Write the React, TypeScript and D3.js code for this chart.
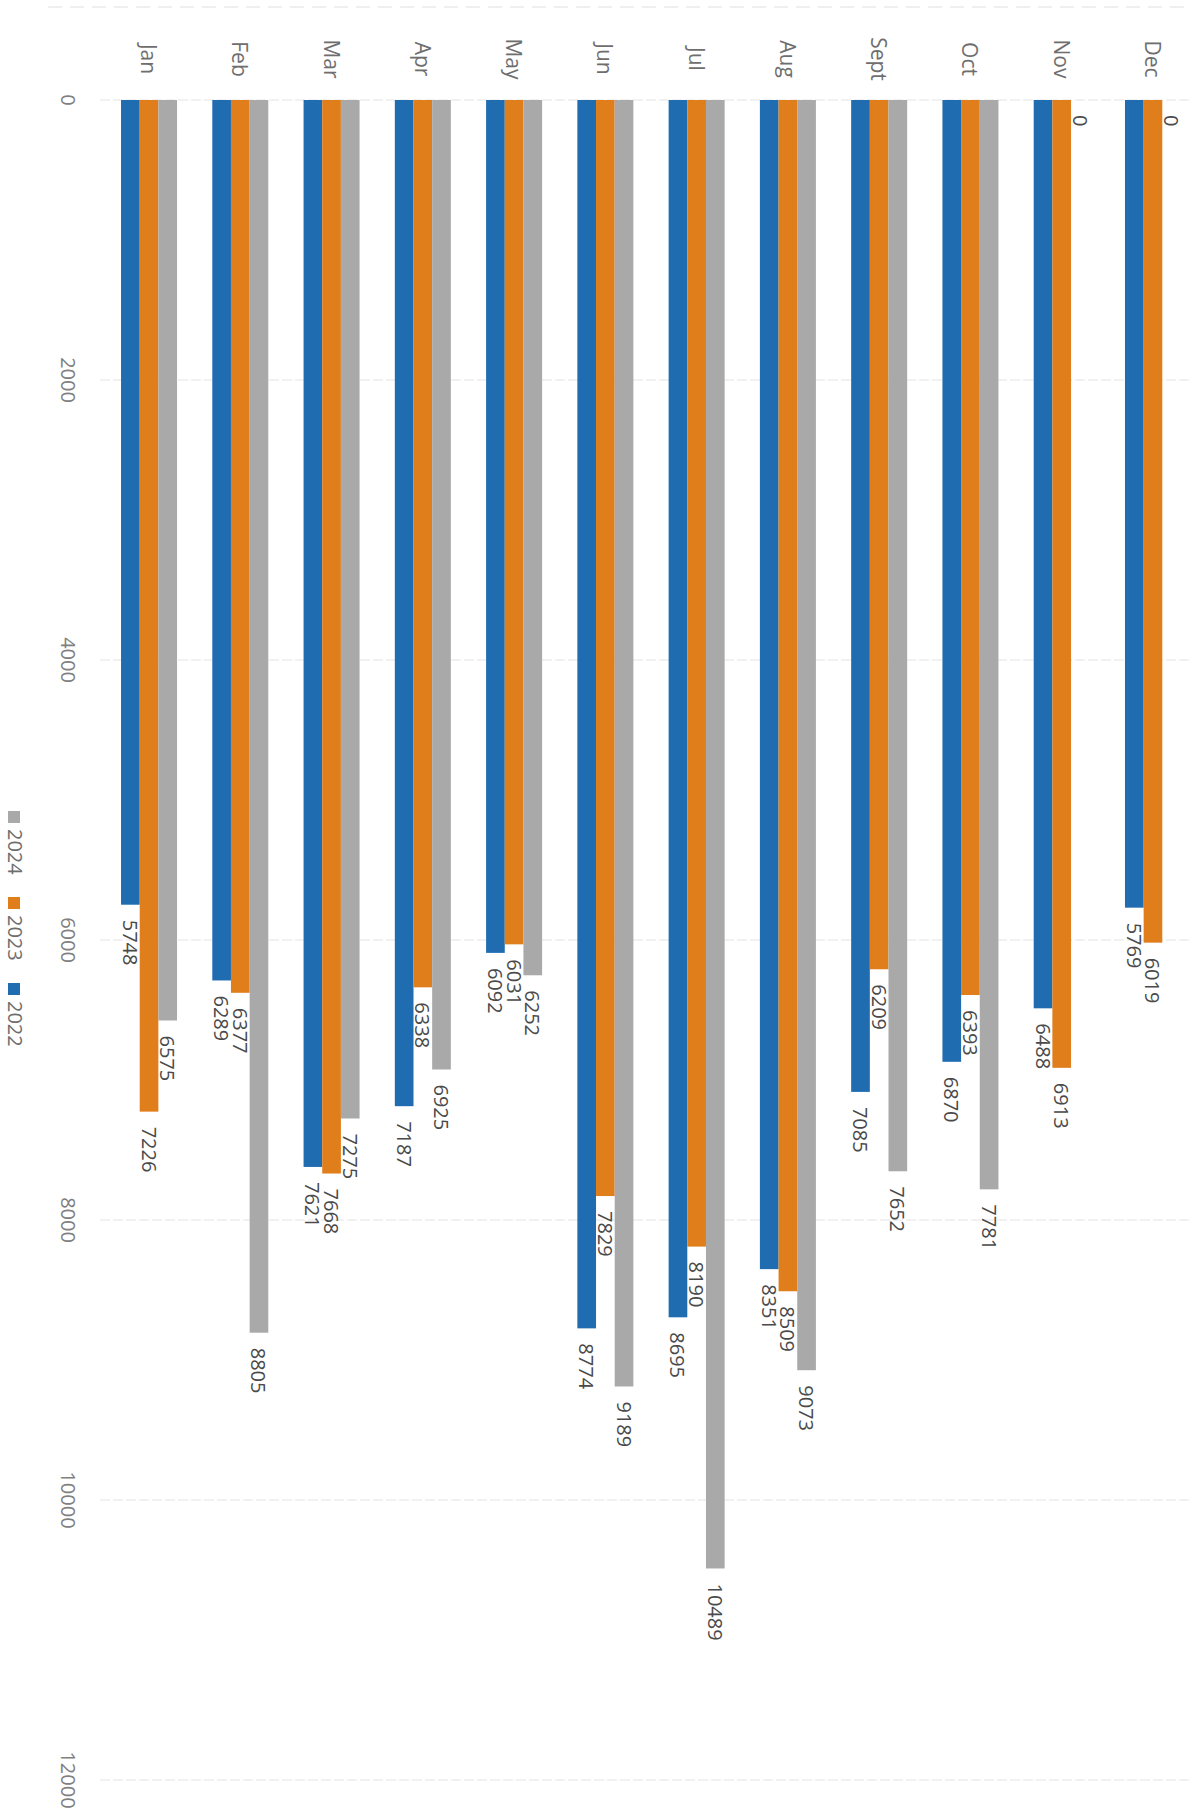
import React from "react";
import * as d3 from "d3";

const months = ["Jan", "Feb", "Mar", "Apr", "May", "Jun", "Jul", "Aug", "Sept", "Oct", "Nov", "Dec"];
const seriesNames = ["2022", "2023", "2024"];
const values2022 = [5748, 6289, 7621, 7187, 6092, 8774, 8695, 8351, 7085, 6870, 6488, 5769];
const values2023 = [7226, 6377, 7668, 6338, 6031, 7829, 8190, 8509, 6209, 6393, 6913, 6019];
const values2024 = [6575, 8805, 7275, 6925, 6252, 9189, 10489, 9073, 7652, 7781, 0, 0];
const valueTicks = [0, 2000, 4000, 6000, 8000, 10000, 12000];
const legendOrder = ["2024", "2023", "2022"];

const colors: Record<string, string> = { "2022": "#1f6cb1", "2023": "#e07e1c", "2024": "#a9a9a9" };

const W = 1191;
const H = 1818;
const FONT = "'Open Sans', 'DejaVu Sans', sans-serif";

export default function App() {
  const seriesValues: Record<string, number[]> = { "2022": values2022, "2023": values2023, "2024": values2024 };

  const y = d3.scaleLinear().domain([0, 12000]).range([100, 1780]);
  const x0 = d3.scaleBand<string>().domain(months).range([103.4, 1198.6]).paddingInner(0.3864).paddingOuter(0.1932);
  const x1 = d3.scaleBand<string>().domain(seriesNames).range([0, x0.bandwidth()]).padding(0);

  return (
    <svg width={W} height={H} style={{ position: "absolute", left: 0, top: 0, background: "#fff" }} fontFamily={FONT}>
      <rect x={0} y={0} width={W} height={H} fill="#fff" />
      {/* faint top line */}
      <line x1={48} x2={1185} y1={7} y2={7} stroke="#efefef" strokeWidth={2} strokeDasharray="14 8" />
      {/* gridlines */}
      {valueTicks.map((t) => (
        <line key={"g" + t} x1={100} x2={W} y1={y(t)} y2={y(t)} stroke="#e4e4e4" strokeWidth={1} strokeDasharray="10 3" />
      ))}
      {/* tick labels */}
      {valueTicks.map((t) => (
        <text
          key={"t" + t}
          transform={`translate(${68},${y(t)}) rotate(90)`}
          textAnchor="middle"
          dominantBaseline="central"
          fontSize={20}
          fill="#808080"
        >
          {t}
        </text>
      ))}
      {/* month labels */}
      {months.map((m) => (
        <text
          key={"m" + m}
          transform={`translate(${(x0(m) ?? 0) + x0.bandwidth() / 2},${59}) rotate(90)`}
          textAnchor="middle"
          dominantBaseline="central"
          fontSize={21}
          fill="#6e6e6e"
        >
          {m}
        </text>
      ))}
      {/* bars */}
      {months.map((m, i) => (
        <g key={"grp" + m} transform={`translate(${x0(m)},0)`}>
          {seriesNames.map((s) => {
            const v = seriesValues[s][i];
            return (
              <rect
                key={s}
                x={x1(s)}
                y={y(0)}
                width={x1.bandwidth()}
                height={y(v) - y(0)}
                fill={colors[s]}
              />
            );
          })}
          {seriesNames.map((s) => {
            const v = seriesValues[s][i];
            return (
              <text
                key={"l" + s}
                transform={`translate(${(x1(s) ?? 0) + x1.bandwidth() / 2},${y(v) + 15}) rotate(90)`}
                textAnchor="start"
                dominantBaseline="central"
                fontSize={20}
                fill="#4a4a4a"
              >
                {v}
              </text>
            );
          })}
        </g>
      ))}
      {/* legend */}
      {legendOrder.map((s, i) => {
        const top = 811 + i * 86;
        return (
          <g key={"leg" + s}>
            <rect x={8} y={top} width={12} height={12} fill={colors[s]} />
            <text
              transform={`translate(${15},${top + 18}) rotate(90)`}
              textAnchor="start"
              dominantBaseline="central"
              fontSize={20}
              fill="#6e6e6e"
            >
              {s}
            </text>
          </g>
        );
      })}
    </svg>
  );
}
